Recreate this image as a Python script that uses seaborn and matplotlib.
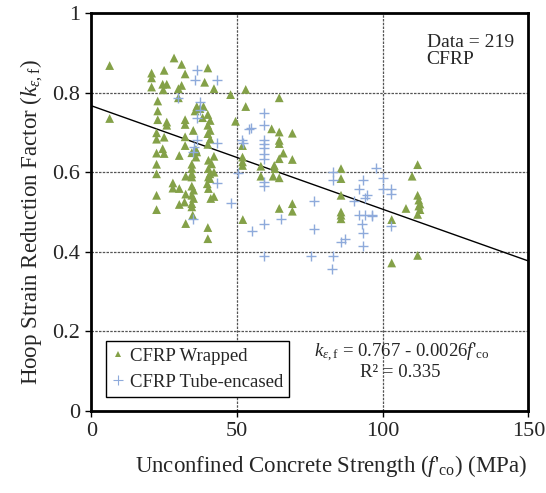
import matplotlib
matplotlib.use("Agg")
import matplotlib.pyplot as plt
import seaborn as sns
import numpy as np
import pandas as pd
from matplotlib.lines import Line2D

# ---- data ----
wrapped_x = [6.3, 6.3,
             28.4, 31, 25, 20.7, 20.7, 32.2, 40, 38.9, 20.7,
             24.5, 25.9, 24.7, 29.9, 31, 42.1, 29.9, 47.8, 53,
             22.8, 22.8, 22.8, 25.9, 25.9, 22.4, 22.4, 25,
             32.2, 32.2, 36.2, 38.5, 35.6, 37.3, 38.2,
             40, 40.8, 40, 40.8, 40, 40.8, 40,
             35, 32.2, 32.2, 24.5, 25, 22.4, 30.2,
             34.5, 35.9, 35.9, 42.1, 22.4,
             34.5, 34.5, 34.5, 34.5,
             40.2, 41.3, 40.2, 40.7, 42.1, 40.2, 40.7, 39.8, 40.2,
             22.4, 32.4, 28, 28, 30.2,
             34.5, 35.1, 34.5, 35.1, 34.5, 34.5,
             32.4, 32, 41, 42.1, 22.4, 30.2, 22.4, 34.8, 52,
             32.4, 40, 40, 36.2,
             64.5, 53, 49.5, 61.9, 64.5, 64.5, 64.5, 69, 65.9, 64.5, 69,
             51.9, 51.9, 51.9, 51.9, 58.2, 62.8, 63, 58.2, 62.4, 64.5,
             64.5, 69, 69,
             85.7, 85.7, 85.7, 85.7, 85.7, 85.7,
             112, 110.1, 112, 112.4, 112.8, 112.4, 112.8, 108, 112, 103.1, 112, 103.1]
wrapped_y = [0.868, 0.735,
             0.887, 0.871, 0.856, 0.849, 0.837, 0.847, 0.862, 0.826, 0.814,
             0.821, 0.821, 0.807, 0.810, 0.818, 0.810, 0.787, 0.795, 0.808,
             0.779, 0.754, 0.732, 0.726, 0.718, 0.699, 0.683, 0.688,
             0.732, 0.720, 0.765, 0.765, 0.754, 0.760, 0.737,
             0.745, 0.730, 0.718, 0.705, 0.697, 0.683, 0.670,
             0.705, 0.689, 0.667, 0.659, 0.647, 0.648, 0.642,
             0.649, 0.657, 0.638, 0.640, 0.620,
             0.620, 0.609, 0.596, 0.588,
             0.630, 0.621, 0.609, 0.596, 0.600, 0.588, 0.584, 0.571, 0.559,
             0.596, 0.590, 0.573, 0.560, 0.559,
             0.565, 0.555, 0.542, 0.534, 0.521, 0.513,
             0.545, 0.525, 0.534, 0.539, 0.542, 0.519, 0.506, 0.492, 0.481,
             0.471, 0.461, 0.433, 0.651,
             0.787, 0.765, 0.728, 0.709, 0.701, 0.680, 0.672, 0.698, 0.648, 0.634, 0.632,
             0.667, 0.638, 0.626, 0.617, 0.615, 0.617, 0.609, 0.590, 0.590, 0.586,
             0.509, 0.521, 0.502,
             0.609, 0.584, 0.542, 0.500, 0.492, 0.483,
             0.619, 0.590, 0.542, 0.530, 0.520, 0.515, 0.506, 0.509, 0.494, 0.481, 0.391, 0.372]

tube_x = [36.4, 35.7, 43, 29.9, 37.3, 37.3, 36.4, 43, 36.2, 35.2, 35, 52, 54.2, 50.2, 43, 47.8, 34.8, 51.6,
          59.2, 59.2, 54.8, 59.2, 59.2, 59.2, 59.2, 59.2, 59.2, 59.2, 65.1, 59.2, 55, 59.2, 75.4, 76.5, 76.5,
          83.1, 83.1, 92, 93.4, 94, 94.7, 90.2, 97.6, 100, 102.7, 100, 92, 93.9, 96.2, 92.8, 93.4, 93.1,
          85.6, 87.1, 83.1, 82.5, 102.7, 102.7, 96.2]
tube_y = [0.857, 0.832, 0.832, 0.786, 0.776, 0.757, 0.737, 0.674, 0.680, 0.664, 0.650, 0.674, 0.709, 0.598, 0.573, 0.523, 0.483, 0.680,
          0.749, 0.718, 0.711, 0.680, 0.672, 0.662, 0.647, 0.634, 0.576, 0.565, 0.483, 0.471, 0.452, 0.389, 0.389, 0.528, 0.458,
          0.600, 0.581, 0.559, 0.581, 0.536, 0.542, 0.528, 0.611, 0.586, 0.559, 0.559, 0.492, 0.492, 0.492, 0.471, 0.448, 0.414,
          0.425, 0.433, 0.389, 0.358, 0.546, 0.464, 0.489]

series_names = ["CFRP Wrapped", "CFRP Tube-encased"]
fit_intercept = 0.767
fit_slope = -0.0026
x_ticks = [0, 50, 100, 150]
y_ticks = [0, 0.2, 0.4, 0.6, 0.8, 1.0]
y_ticklabels = ["0", "0.2", "0.4", "0.6", "0.8", "1"]

# ---- style ----
sns.set_style("white")
plt.rcParams["font.family"] = ["Liberation Serif", "DejaVu Serif"]
plt.rcParams["mathtext.fontset"] = "custom"
plt.rcParams["mathtext.rm"] = "Liberation Serif"
plt.rcParams["mathtext.it"] = "Liberation Serif:italic"
plt.rcParams["mathtext.bf"] = "Liberation Serif:bold"

green = "#84A148"
blue = "#8EAADB"

fig = plt.figure(figsize=(5.46, 4.93), dpi=100)
ax = fig.add_axes([0.1672, 0.1663, 0.8005, 0.8073])

df_w = pd.DataFrame({"x": wrapped_x, "y": wrapped_y})
df_t = pd.DataFrame({"x": tube_x, "y": tube_y})

sns.scatterplot(data=df_w, x="x", y="y", marker="^", color=green, s=40,
                edgecolor="none", ax=ax, zorder=3, legend=False)
sns.scatterplot(data=df_t, x="x", y="y", marker="+", color=blue, s=50,
                linewidth=1.0, ax=ax, zorder=3, legend=False)

# regression line
xl = np.array([0, 150])
sns.lineplot(x=xl, y=fit_intercept + fit_slope * xl, color="black", linewidth=1.0, ax=ax, zorder=2)

ax.set_xlim(0, 150)
ax.set_ylim(0, 1)
ax.set_xticks(x_ticks)
ax.set_yticks(y_ticks)
ax.set_yticklabels(y_ticklabels)
ax.tick_params(axis="both", labelsize=16, direction="out", length=4, width=1, color="black",
               bottom=True, left=True, pad=4)

for x in [50, 100]:
    ax.axvline(x, color="#555555", linestyle=(0, (2, 1)), linewidth=0.9, zorder=1)
for y in [0.2, 0.4, 0.6, 0.8]:
    ax.axhline(y, color="#555555", linestyle=(0, (2, 1)), linewidth=0.9, zorder=1)

for sp in ax.spines.values():
    sp.set_visible(True)
    sp.set_color("black")
    sp.set_linewidth(2.0)

ax.set_xlabel(r"Unconfined Concrete Strength ($f$'$_{\rm co}$) (MPa)", fontsize=16.5)
ax.xaxis.set_label_coords(0.548, -0.105)
ax.set_ylabel(r"Hoop Strain Reduction Factor ($k_{\varepsilon,\rm f}$)", fontsize=16.5)
ax.yaxis.set_label_coords(-0.106, 0.475)

ax.text(0.767, 0.927, "Data = 219", transform=ax.transAxes, fontsize=14, ha="left", va="center")
ax.text(0.767, 0.883, "CFRP", transform=ax.transAxes, fontsize=14, ha="left", va="center")
ax.text(0.711, 0.148, r"$k_{\varepsilon,\rm f}$ = 0.767 - 0.0026$f$'$_{\rm co}$", transform=ax.transAxes,
        fontsize=13.5, ha="center", va="center")
ax.text(0.706, 0.096, "R² = 0.335", transform=ax.transAxes, fontsize=13.5, ha="center", va="center")

handles = [Line2D([], [], marker="^", color=green, linestyle="none", markersize=4.5, markeredgewidth=0),
           Line2D([], [], marker="+", color=blue, linestyle="none", markersize=7, markeredgewidth=0.8)]
leg = ax.legend(handles, series_names, loc="lower left", bbox_to_anchor=(0.034, 0.035),
                frameon=True, fancybox=False, edgecolor="black", framealpha=1, fontsize=13.5,
                handlelength=0.6, handletextpad=0.3, borderpad=0.35, labelspacing=0.45,
                borderaxespad=0)
leg.get_frame().set_linewidth(1.0)

fig.savefig("out.png", dpi=100)
